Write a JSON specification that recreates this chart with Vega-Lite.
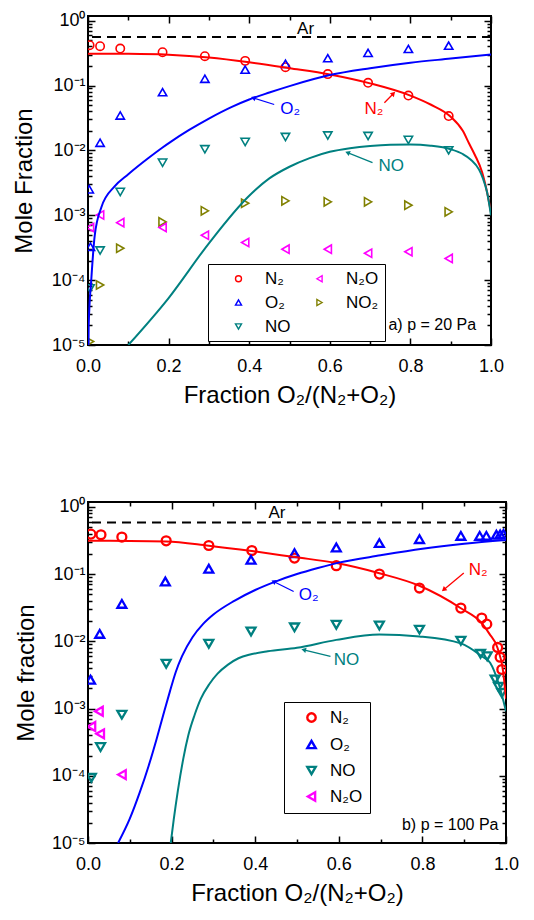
{
  "$schema": "https://vega.github.io/schema/vega-lite/v6.json",
  "background": "white",
  "padding": {"left": 11, "top": 10, "right": 4, "bottom": 4},
  "spacing": 88,
  "config": {
    "font": "Liberation Sans",
    "view": {"stroke": "black", "strokeWidth": 2},
    "axis": {"domain": false, "grid": false, "labelFont": "Liberation Sans", "labelFontSize": 18, "labelColor": "black", "tickColor": "black", "tickWidth": 1.5, "labelFlush": false, "labelOverlap": false, "titleFont": "Liberation Sans", "titleFontSize": 24, "titleFontWeight": "normal", "titleColor": "black"},
    "legend": {"labelFont": "Liberation Sans", "labelColor": "black"}
  },
  "datasets": {
    "topPts": [
      {"sp": "N₂", "x": 0.004, "y": 0.419}, {"sp": "N₂", "x": 0.03, "y": 0.404}, {"sp": "N₂", "x": 0.08, "y": 0.371}, {"sp": "N₂", "x": 0.185, "y": 0.327}, {"sp": "N₂", "x": 0.29, "y": 0.283}, {"sp": "N₂", "x": 0.39, "y": 0.24}, {"sp": "N₂", "x": 0.49, "y": 0.192}, {"sp": "N₂", "x": 0.595, "y": 0.15}, {"sp": "N₂", "x": 0.695, "y": 0.11}, {"sp": "N₂", "x": 0.795, "y": 0.07}, {"sp": "N₂", "x": 0.895, "y": 0.0338},
      {"sp": "O₂", "x": 0.003, "y": 0.00251}, {"sp": "O₂", "x": 0.006, "y": 0.000327}, {"sp": "O₂", "x": 0.03, "y": 0.0131}, {"sp": "O₂", "x": 0.08, "y": 0.0345}, {"sp": "O₂", "x": 0.185, "y": 0.079}, {"sp": "O₂", "x": 0.29, "y": 0.127}, {"sp": "O₂", "x": 0.39, "y": 0.176}, {"sp": "O₂", "x": 0.49, "y": 0.216}, {"sp": "O₂", "x": 0.595, "y": 0.264}, {"sp": "O₂", "x": 0.695, "y": 0.319}, {"sp": "O₂", "x": 0.795, "y": 0.367}, {"sp": "O₂", "x": 0.895, "y": 0.412},
      {"sp": "NO", "x": 0.005, "y": 0.0000745}, {"sp": "NO", "x": 0.03, "y": 0.000286}, {"sp": "NO", "x": 0.08, "y": 0.00229}, {"sp": "NO", "x": 0.185, "y": 0.00647}, {"sp": "NO", "x": 0.29, "y": 0.0104}, {"sp": "NO", "x": 0.39, "y": 0.0135}, {"sp": "NO", "x": 0.49, "y": 0.0161}, {"sp": "NO", "x": 0.595, "y": 0.017}, {"sp": "NO", "x": 0.695, "y": 0.0167}, {"sp": "NO", "x": 0.795, "y": 0.0145}, {"sp": "NO", "x": 0.895, "y": 0.01},
      {"sp": "NO₂", "x": 0.005, "y": 0.0000113}, {"sp": "NO₂", "x": 0.03, "y": 0.000084}, {"sp": "NO₂", "x": 0.08, "y": 0.00031}, {"sp": "NO₂", "x": 0.185, "y": 0.00079}, {"sp": "NO₂", "x": 0.29, "y": 0.00117}, {"sp": "NO₂", "x": 0.39, "y": 0.00153}, {"sp": "NO₂", "x": 0.49, "y": 0.00167}, {"sp": "NO₂", "x": 0.595, "y": 0.00161}, {"sp": "NO₂", "x": 0.695, "y": 0.00161}, {"sp": "NO₂", "x": 0.795, "y": 0.00143}, {"sp": "NO₂", "x": 0.895, "y": 0.00113},
      {"sp": "N₂O", "x": 0.005, "y": 0.000647}, {"sp": "N₂O", "x": 0.03, "y": 0.00101}, {"sp": "N₂O", "x": 0.08, "y": 0.00077}, {"sp": "N₂O", "x": 0.185, "y": 0.000647}, {"sp": "N₂O", "x": 0.29, "y": 0.000492}, {"sp": "N₂O", "x": 0.39, "y": 0.00038}, {"sp": "N₂O", "x": 0.49, "y": 0.0003}, {"sp": "N₂O", "x": 0.595, "y": 0.0003}, {"sp": "N₂O", "x": 0.695, "y": 0.00026}, {"sp": "N₂O", "x": 0.795, "y": 0.000274}, {"sp": "N₂O", "x": 0.895, "y": 0.000216}
    ],
    "topCurves": [
      {"c": "N2", "x": 0, "y": 0.31}, {"c": "N2", "x": 0.1, "y": 0.308}, {"c": "N2", "x": 0.2, "y": 0.298}, {"c": "N2", "x": 0.3, "y": 0.27}, {"c": "N2", "x": 0.4, "y": 0.228}, {"c": "N2", "x": 0.5, "y": 0.185}, {"c": "N2", "x": 0.6, "y": 0.148}, {"c": "N2", "x": 0.7, "y": 0.108}, {"c": "N2", "x": 0.8, "y": 0.07}, {"c": "N2", "x": 0.85, "y": 0.051}, {"c": "N2", "x": 0.9, "y": 0.033}, {"c": "N2", "x": 0.93, "y": 0.02}, {"c": "N2", "x": 0.945, "y": 0.013}, {"c": "N2", "x": 0.96, "y": 0.0085}, {"c": "N2", "x": 0.978, "y": 0.0046}, {"c": "N2", "x": 0.99, "y": 0.0023}, {"c": "N2", "x": 1.0, "y": 0.0011},
      {"c": "O2", "x": 0.0012, "y": 0.00001}, {"c": "O2", "x": 0.0017, "y": 0.00002}, {"c": "O2", "x": 0.0083, "y": 0.000105}, {"c": "O2", "x": 0.0166, "y": 0.00048}, {"c": "O2", "x": 0.033, "y": 0.00132}, {"c": "O2", "x": 0.066, "y": 0.00279}, {"c": "O2", "x": 0.1, "y": 0.0043}, {"c": "O2", "x": 0.15, "y": 0.00764}, {"c": "O2", "x": 0.185, "y": 0.0111}, {"c": "O2", "x": 0.207, "y": 0.0138}, {"c": "O2", "x": 0.25, "y": 0.0205}, {"c": "O2", "x": 0.3, "y": 0.031}, {"c": "O2", "x": 0.357, "y": 0.047}, {"c": "O2", "x": 0.4, "y": 0.061}, {"c": "O2", "x": 0.45, "y": 0.078}, {"c": "O2", "x": 0.5, "y": 0.098}, {"c": "O2", "x": 0.6, "y": 0.145}, {"c": "O2", "x": 0.7, "y": 0.185}, {"c": "O2", "x": 0.8, "y": 0.225}, {"c": "O2", "x": 0.9, "y": 0.26}, {"c": "O2", "x": 1.0, "y": 0.3},
      {"c": "NO", "x": 0.1, "y": 0.00001}, {"c": "NO", "x": 0.2, "y": 0.000053}, {"c": "NO", "x": 0.3, "y": 0.00037}, {"c": "NO", "x": 0.4, "y": 0.002}, {"c": "NO", "x": 0.45, "y": 0.0037}, {"c": "NO", "x": 0.5, "y": 0.0056}, {"c": "NO", "x": 0.55, "y": 0.0076}, {"c": "NO", "x": 0.6, "y": 0.0095}, {"c": "NO", "x": 0.65, "y": 0.0108}, {"c": "NO", "x": 0.7, "y": 0.0117}, {"c": "NO", "x": 0.75, "y": 0.0122}, {"c": "NO", "x": 0.8, "y": 0.0123}, {"c": "NO", "x": 0.85, "y": 0.0118}, {"c": "NO", "x": 0.9, "y": 0.0104}, {"c": "NO", "x": 0.93, "y": 0.0088}, {"c": "NO", "x": 0.95, "y": 0.0072}, {"c": "NO", "x": 0.97, "y": 0.0051}, {"c": "NO", "x": 0.98, "y": 0.0037}, {"c": "NO", "x": 0.99, "y": 0.0023}, {"c": "NO", "x": 1.0, "y": 0.001}
    ],
    "botPts": [
      {"sp": "N₂", "x": 0.007, "y": 0.393}, {"sp": "N₂", "x": 0.031, "y": 0.384}, {"sp": "N₂", "x": 0.081, "y": 0.355}, {"sp": "N₂", "x": 0.187, "y": 0.312}, {"sp": "N₂", "x": 0.289, "y": 0.266}, {"sp": "N₂", "x": 0.392, "y": 0.224}, {"sp": "N₂", "x": 0.494, "y": 0.173}, {"sp": "N₂", "x": 0.594, "y": 0.133}, {"sp": "N₂", "x": 0.697, "y": 0.1}, {"sp": "N₂", "x": 0.793, "y": 0.062}, {"sp": "N₂", "x": 0.892, "y": 0.0312}, {"sp": "N₂", "x": 0.942, "y": 0.0222}, {"sp": "N₂", "x": 0.954, "y": 0.018}, {"sp": "N₂", "x": 0.98, "y": 0.0081}, {"sp": "N₂", "x": 0.986, "y": 0.0058}, {"sp": "N₂", "x": 0.99, "y": 0.0038},
      {"sp": "O₂", "x": 0.006, "y": 0.00268}, {"sp": "O₂", "x": 0.028, "y": 0.0129}, {"sp": "O₂", "x": 0.081, "y": 0.036}, {"sp": "O₂", "x": 0.185, "y": 0.0776}, {"sp": "O₂", "x": 0.289, "y": 0.12}, {"sp": "O₂", "x": 0.39, "y": 0.163}, {"sp": "O₂", "x": 0.494, "y": 0.205}, {"sp": "O₂", "x": 0.594, "y": 0.249}, {"sp": "O₂", "x": 0.697, "y": 0.289}, {"sp": "O₂", "x": 0.793, "y": 0.331}, {"sp": "O₂", "x": 0.892, "y": 0.37}, {"sp": "O₂", "x": 0.937, "y": 0.37}, {"sp": "O₂", "x": 0.953, "y": 0.37}, {"sp": "O₂", "x": 0.977, "y": 0.385}, {"sp": "O₂", "x": 0.986, "y": 0.39}, {"sp": "O₂", "x": 0.994, "y": 0.395},
      {"sp": "NO", "x": 0.008, "y": 0.000093}, {"sp": "NO", "x": 0.03, "y": 0.000267}, {"sp": "NO", "x": 0.081, "y": 0.00081}, {"sp": "NO", "x": 0.187, "y": 0.00464}, {"sp": "NO", "x": 0.289, "y": 0.0092}, {"sp": "NO", "x": 0.39, "y": 0.014}, {"sp": "NO", "x": 0.494, "y": 0.0161}, {"sp": "NO", "x": 0.594, "y": 0.0176}, {"sp": "NO", "x": 0.697, "y": 0.0172}, {"sp": "NO", "x": 0.793, "y": 0.0149}, {"sp": "NO", "x": 0.892, "y": 0.0102}, {"sp": "NO", "x": 0.939, "y": 0.0065}, {"sp": "NO", "x": 0.955, "y": 0.006}, {"sp": "NO", "x": 0.974, "y": 0.0027}, {"sp": "NO", "x": 0.982, "y": 0.0021}, {"sp": "NO", "x": 0.99, "y": 0.0017},
      {"sp": "N₂O", "x": 0.026, "y": 0.00091}, {"sp": "N₂O", "x": 0.008, "y": 0.00054}, {"sp": "N₂O", "x": 0.029, "y": 0.00042}, {"sp": "N₂O", "x": 0.081, "y": 0.000104}
    ],
    "botCurves": [
      {"c": "N2", "x": 0, "y": 0.312}, {"c": "N2", "x": 0.1, "y": 0.311}, {"c": "N2", "x": 0.187, "y": 0.306}, {"c": "N2", "x": 0.289, "y": 0.264}, {"c": "N2", "x": 0.392, "y": 0.22}, {"c": "N2", "x": 0.494, "y": 0.179}, {"c": "N2", "x": 0.594, "y": 0.146}, {"c": "N2", "x": 0.697, "y": 0.103}, {"c": "N2", "x": 0.793, "y": 0.067}, {"c": "N2", "x": 0.892, "y": 0.031}, {"c": "N2", "x": 0.942, "y": 0.0186}, {"c": "N2", "x": 0.96, "y": 0.013}, {"c": "N2", "x": 0.98, "y": 0.0079}, {"c": "N2", "x": 0.993, "y": 0.0036}, {"c": "N2", "x": 1.0, "y": 0.0014},
      {"c": "O2", "x": 0.072, "y": 0.00001}, {"c": "O2", "x": 0.1, "y": 0.000023}, {"c": "O2", "x": 0.124, "y": 0.000057}, {"c": "O2", "x": 0.145, "y": 0.00014}, {"c": "O2", "x": 0.164, "y": 0.00035}, {"c": "O2", "x": 0.18, "y": 0.0008}, {"c": "O2", "x": 0.196, "y": 0.0018}, {"c": "O2", "x": 0.21, "y": 0.0035}, {"c": "O2", "x": 0.225, "y": 0.006}, {"c": "O2", "x": 0.25, "y": 0.0115}, {"c": "O2", "x": 0.275, "y": 0.018}, {"c": "O2", "x": 0.3, "y": 0.025}, {"c": "O2", "x": 0.35, "y": 0.04}, {"c": "O2", "x": 0.4, "y": 0.058}, {"c": "O2", "x": 0.45, "y": 0.078}, {"c": "O2", "x": 0.5, "y": 0.1}, {"c": "O2", "x": 0.55, "y": 0.123}, {"c": "O2", "x": 0.6, "y": 0.148}, {"c": "O2", "x": 0.7, "y": 0.19}, {"c": "O2", "x": 0.8, "y": 0.238}, {"c": "O2", "x": 0.9, "y": 0.282}, {"c": "O2", "x": 1.0, "y": 0.32},
      {"c": "NO", "x": 0.198, "y": 0.00001}, {"c": "NO", "x": 0.205, "y": 0.000022}, {"c": "NO", "x": 0.215, "y": 0.00006}, {"c": "NO", "x": 0.228, "y": 0.00018}, {"c": "NO", "x": 0.24, "y": 0.0004}, {"c": "NO", "x": 0.255, "y": 0.0008}, {"c": "NO", "x": 0.27, "y": 0.0014}, {"c": "NO", "x": 0.29, "y": 0.0023}, {"c": "NO", "x": 0.31, "y": 0.0033}, {"c": "NO", "x": 0.335, "y": 0.0045}, {"c": "NO", "x": 0.36, "y": 0.0056}, {"c": "NO", "x": 0.39, "y": 0.0064}, {"c": "NO", "x": 0.43, "y": 0.0071}, {"c": "NO", "x": 0.5, "y": 0.008}, {"c": "NO", "x": 0.594, "y": 0.0105}, {"c": "NO", "x": 0.697, "y": 0.0126}, {"c": "NO", "x": 0.793, "y": 0.0118}, {"c": "NO", "x": 0.892, "y": 0.0093}, {"c": "NO", "x": 0.942, "y": 0.006}, {"c": "NO", "x": 0.962, "y": 0.0048}, {"c": "NO", "x": 0.982, "y": 0.0024}, {"c": "NO", "x": 1.0, "y": 0.00091}
    ]
  },
  "resolve": {"scale": {"color": "independent", "shape": "independent"}, "legend": {"color": "independent", "shape": "independent"}},
  "vconcat": [
    {
      "width": 403, "height": 329,
      "resolve": {"axis": {"x": "independent", "y": "independent"}},
      "layer": [
        {
          "data": {"name": "topPts"},
          "mark": {"type": "point", "filled": false, "size": 70, "strokeWidth": 1.6, "opacity": 1, "clip": true},
          "encoding": {
            "x": {"field": "x", "type": "quantitative", "scale": {"domain": [0, 1], "nice": false, "zero": false}, "axis": {"orient": "bottom", "values": [0, 0.2, 0.4, 0.6, 0.8, 1], "format": ".1f", "tickSize": -7, "labelPadding": 19, "title": "Fraction O₂/(N₂+O₂)", "titlePadding": 8}},
            "y": {"field": "y", "type": "quantitative", "scale": {"type": "log", "domain": [0.00001, 1.18], "nice": false}, "axis": {"orient": "left", "values": [0.00001, 0.0001, 0.001, 0.01, 0.1, 1], "labelExpr": "datum.value >= 1 ? '10⁰' : datum.value >= 0.1 ? '10⁻¹' : datum.value >= 0.01 ? '10⁻²' : datum.value >= 0.001 ? '10⁻³' : datum.value >= 0.0001 ? '10⁻⁴' : '10⁻⁵'", "tickSize": -7, "labelPadding": 10, "title": "Mole Fraction", "titlePadding": 15}},
            "color": {"field": "sp", "type": "nominal", "scale": {"domain": ["N₂", "O₂", "NO", "N₂O", "NO₂"], "range": ["#ff0000", "#0000ff", "#008080", "#ff00ff", "#808000"]}, "legend": {"title": null, "orient": "none", "legendX": 120, "legendY": 248, "columns": 2, "gridAlign": "each", "strokeColor": "black", "fillColor": "white", "padding": 6, "symbolSize": 36, "symbolStrokeWidth": 1.4, "labelFontSize": 17, "rowPadding": 6, "columnPadding": 4, "symbolOffset": 16, "labelOffset": 18}},
            "shape": {"field": "sp", "type": "nominal", "scale": {"domain": ["N₂", "O₂", "NO", "N₂O", "NO₂"], "range": ["circle", "triangle-up", "triangle-down", "triangle-left", "triangle-right"]}, "legend": {"title": null, "orient": "none", "legendX": 120, "legendY": 248, "columns": 2, "gridAlign": "each", "strokeColor": "black", "fillColor": "white", "padding": 6, "symbolSize": 36, "symbolStrokeWidth": 1.4, "labelFontSize": 17, "rowPadding": 6, "columnPadding": 4, "symbolOffset": 16, "labelOffset": 18}}
          }
        },
        {
          "data": {"name": "topCurves"},
          "transform": [{"filter": "datum.c === 'N2'"}],
          "mark": {"type": "line", "color": "#ff0000", "strokeWidth": 2, "interpolate": "monotone", "clip": true},
          "encoding": {
            "x": {"field": "x", "type": "quantitative", "scale": {"domain": [0, 1], "nice": false, "zero": false}, "axis": {"orient": "bottom", "values": [0.1, 0.3, 0.5, 0.7, 0.9], "labels": false, "tickSize": -4, "title": null}},
            "y": {"field": "y", "type": "quantitative", "scale": {"type": "log", "domain": [0.00001, 1.18], "nice": false}, "axis": {"orient": "left", "values": [0.00002, 0.00003, 0.00004, 0.00005, 0.00006, 0.00007, 0.00008, 0.00009, 0.0002, 0.0003, 0.0004, 0.0005, 0.0006, 0.0007, 0.0008, 0.0009, 0.002, 0.003, 0.004, 0.005, 0.006, 0.007, 0.008, 0.009, 0.02, 0.03, 0.04, 0.05, 0.06, 0.07, 0.08, 0.09, 0.2, 0.3, 0.4, 0.5, 0.6, 0.7, 0.8, 0.9], "labels": false, "tickSize": -4, "title": null}}
          }
        },
        {
          "data": {"name": "topCurves"},
          "transform": [{"filter": "datum.c === 'O2'"}],
          "mark": {"type": "line", "color": "#0000ff", "strokeWidth": 2, "interpolate": "monotone", "clip": true},
          "encoding": {
            "x": {"field": "x", "type": "quantitative", "scale": {"domain": [0, 1], "nice": false, "zero": false}, "axis": {"orient": "top", "values": [0, 0.2, 0.4, 0.6, 0.8, 1], "labels": false, "tickSize": -7, "title": null}},
            "y": {"field": "y", "type": "quantitative", "scale": {"type": "log", "domain": [0.00001, 1.18], "nice": false}, "axis": {"orient": "right", "values": [0.00001, 0.0001, 0.001, 0.01, 0.1, 1], "labels": false, "tickSize": -7, "title": null}}
          }
        },
        {
          "data": {"name": "topCurves"},
          "transform": [{"filter": "datum.c === 'NO'"}],
          "mark": {"type": "line", "color": "#008080", "strokeWidth": 2, "interpolate": "monotone", "clip": true},
          "encoding": {
            "x": {"field": "x", "type": "quantitative", "scale": {"domain": [0, 1], "nice": false, "zero": false}, "axis": {"orient": "top", "values": [0.1, 0.3, 0.5, 0.7, 0.9], "labels": false, "tickSize": -4, "title": null}},
            "y": {"field": "y", "type": "quantitative", "scale": {"type": "log", "domain": [0.00001, 1.18], "nice": false}, "axis": {"orient": "right", "values": [0.00002, 0.00003, 0.00004, 0.00005, 0.00006, 0.00007, 0.00008, 0.00009, 0.0002, 0.0003, 0.0004, 0.0005, 0.0006, 0.0007, 0.0008, 0.0009, 0.002, 0.003, 0.004, 0.005, 0.006, 0.007, 0.008, 0.009, 0.02, 0.03, 0.04, 0.05, 0.06, 0.07, 0.08, 0.09, 0.2, 0.3, 0.4, 0.5, 0.6, 0.7, 0.8, 0.9], "labels": false, "tickSize": -4, "title": null}}
          }
        },
        {
          "data": {"values": [{"t": "Ar", "x": 0.54, "y": 0.745, "v": 0.56}]},
          "layer": [
            {"mark": {"type": "rule", "color": "black", "strokeWidth": 2, "strokeDash": [9, 6]}, "encoding": {"y": {"field": "v", "type": "quantitative", "scale": {"type": "log", "domain": [0.00001, 1.18], "nice": false}, "axis": null}}},
            {"mark": {"type": "text", "color": "black", "fontSize": 17, "align": "center", "baseline": "middle"}, "encoding": {"x": {"field": "x", "type": "quantitative", "scale": {"domain": [0, 1], "nice": false, "zero": false}, "axis": null}, "y": {"field": "y", "type": "quantitative", "scale": {"type": "log", "domain": [0.00001, 1.18], "nice": false}, "axis": null}, "text": {"field": "t"}}}
          ]
        },
        {
          "data": {"values": [{"t": "a) p = 20 Pa", "x": 0.963, "y": 0.00002}]},
          "mark": {"type": "text", "color": "black", "fontSize": 16, "align": "right", "baseline": "middle"},
          "encoding": {"x": {"field": "x", "type": "quantitative", "scale": {"domain": [0, 1], "nice": false, "zero": false}, "axis": null}, "y": {"field": "y", "type": "quantitative", "scale": {"type": "log", "domain": [0.00001, 1.18], "nice": false}, "axis": null}, "text": {"field": "t"}}
        },
        {
          "data": {"values": [{"t": "O₂", "tx": 0.477, "ty": 0.0428, "x1": 0.462, "y1": 0.051, "x2": 0.41, "y2": 0.0646}]},
          "layer": [
            {"mark": {"type": "text", "color": "#0000ff", "fontSize": 17, "align": "left", "baseline": "middle"}, "encoding": {"x": {"field": "tx", "type": "quantitative", "scale": {"domain": [0, 1], "nice": false, "zero": false}, "axis": null}, "y": {"field": "ty", "type": "quantitative", "scale": {"type": "log", "domain": [0.00001, 1.18], "nice": false}, "axis": null}, "text": {"field": "t"}}},
            {"mark": {"type": "rule", "color": "#0000ff", "strokeWidth": 1.3}, "encoding": {"x": {"field": "x1", "type": "quantitative", "scale": {"domain": [0, 1], "nice": false, "zero": false}, "axis": null}, "y": {"field": "y1", "type": "quantitative", "scale": {"type": "log", "domain": [0.00001, 1.18], "nice": false}, "axis": null}, "x2": {"field": "x2"}, "y2": {"field": "y2"}}},
            {"mark": {"type": "point", "shape": "triangle-up", "filled": true, "color": "#0000ff", "size": 30, "angle": 288, "opacity": 1}, "encoding": {"x": {"field": "x2", "type": "quantitative", "scale": {"domain": [0, 1], "nice": false, "zero": false}, "axis": null}, "y": {"field": "y2", "type": "quantitative", "scale": {"type": "log", "domain": [0.00001, 1.18], "nice": false}, "axis": null}}}
          ]
        },
        {
          "data": {"values": [{"t": "N₂", "tx": 0.686, "ty": 0.0428, "x1": 0.7355, "y1": 0.0542, "x2": 0.758, "y2": 0.0753}]},
          "layer": [
            {"mark": {"type": "text", "color": "#ff0000", "fontSize": 17, "align": "left", "baseline": "middle"}, "encoding": {"x": {"field": "tx", "type": "quantitative", "scale": {"domain": [0, 1], "nice": false, "zero": false}, "axis": null}, "y": {"field": "ty", "type": "quantitative", "scale": {"type": "log", "domain": [0.00001, 1.18], "nice": false}, "axis": null}, "text": {"field": "t"}}},
            {"mark": {"type": "rule", "color": "#ff0000", "strokeWidth": 1.3}, "encoding": {"x": {"field": "x1", "type": "quantitative", "scale": {"domain": [0, 1], "nice": false, "zero": false}, "axis": null}, "y": {"field": "y1", "type": "quantitative", "scale": {"type": "log", "domain": [0.00001, 1.18], "nice": false}, "axis": null}, "x2": {"field": "x2"}, "y2": {"field": "y2"}}},
            {"mark": {"type": "point", "shape": "triangle-up", "filled": true, "color": "#ff0000", "size": 30, "angle": 44, "opacity": 1}, "encoding": {"x": {"field": "x2", "type": "quantitative", "scale": {"domain": [0, 1], "nice": false, "zero": false}, "axis": null}, "y": {"field": "y2", "type": "quantitative", "scale": {"type": "log", "domain": [0.00001, 1.18], "nice": false}, "axis": null}}}
          ]
        },
        {
          "data": {"values": [{"t": "NO", "tx": 0.721, "ty": 0.00575, "x1": 0.706, "y1": 0.00647, "x2": 0.644, "y2": 0.00922}]},
          "layer": [
            {"mark": {"type": "text", "color": "#008080", "fontSize": 17, "align": "left", "baseline": "middle"}, "encoding": {"x": {"field": "tx", "type": "quantitative", "scale": {"domain": [0, 1], "nice": false, "zero": false}, "axis": null}, "y": {"field": "ty", "type": "quantitative", "scale": {"type": "log", "domain": [0.00001, 1.18], "nice": false}, "axis": null}, "text": {"field": "t"}}},
            {"mark": {"type": "rule", "color": "#008080", "strokeWidth": 1.3}, "encoding": {"x": {"field": "x1", "type": "quantitative", "scale": {"domain": [0, 1], "nice": false, "zero": false}, "axis": null}, "y": {"field": "y1", "type": "quantitative", "scale": {"type": "log", "domain": [0.00001, 1.18], "nice": false}, "axis": null}, "x2": {"field": "x2"}, "y2": {"field": "y2"}}},
            {"mark": {"type": "point", "shape": "triangle-up", "filled": true, "color": "#008080", "size": 30, "angle": 292, "opacity": 1}, "encoding": {"x": {"field": "x2", "type": "quantitative", "scale": {"domain": [0, 1], "nice": false, "zero": false}, "axis": null}, "y": {"field": "y2", "type": "quantitative", "scale": {"type": "log", "domain": [0.00001, 1.18], "nice": false}, "axis": null}}}
          ]
        }
      ]
    },
    {
      "width": 418, "height": 341,
      "resolve": {"axis": {"x": "independent", "y": "independent"}},
      "layer": [
        {
          "data": {"name": "botPts"},
          "mark": {"type": "point", "filled": false, "size": 80, "strokeWidth": 2.3, "opacity": 1, "clip": true},
          "encoding": {
            "x": {"field": "x", "type": "quantitative", "scale": {"domain": [0, 1], "nice": false, "zero": false}, "axis": {"orient": "bottom", "values": [0, 0.2, 0.4, 0.6, 0.8, 1], "format": ".1f", "tickSize": -7, "labelPadding": 19, "title": "Fraction O₂/(N₂+O₂)", "titlePadding": 8}},
            "y": {"field": "y", "type": "quantitative", "scale": {"type": "log", "domain": [0.00001, 1.18], "nice": false}, "axis": {"orient": "left", "values": [0.00001, 0.0001, 0.001, 0.01, 0.1, 1], "labelExpr": "datum.value >= 1 ? '10⁰' : datum.value >= 0.1 ? '10⁻¹' : datum.value >= 0.01 ? '10⁻²' : datum.value >= 0.001 ? '10⁻³' : datum.value >= 0.0001 ? '10⁻⁴' : '10⁻⁵'", "tickSize": -7, "labelPadding": 10, "title": "Mole fraction", "titlePadding": 13}},
            "color": {"field": "sp", "type": "nominal", "scale": {"domain": ["N₂", "O₂", "NO", "N₂O"], "range": ["#ff0000", "#0000ff", "#008080", "#ff00ff"]}, "legend": {"title": null, "orient": "none", "legendX": 196, "legendY": 200, "strokeColor": "black", "fillColor": "white", "padding": 7, "symbolSize": 70, "symbolStrokeWidth": 2.4, "labelFontSize": 17, "rowPadding": 8, "symbolOffset": 12, "labelOffset": 10}},
            "shape": {"field": "sp", "type": "nominal", "scale": {"domain": ["N₂", "O₂", "NO", "N₂O"], "range": ["circle", "triangle-up", "triangle-down", "triangle-left"]}, "legend": {"title": null, "orient": "none", "legendX": 196, "legendY": 200, "strokeColor": "black", "fillColor": "white", "padding": 7, "symbolSize": 70, "symbolStrokeWidth": 2.4, "labelFontSize": 17, "rowPadding": 8, "symbolOffset": 12, "labelOffset": 10}}
          }
        },
        {
          "data": {"name": "botCurves"},
          "transform": [{"filter": "datum.c === 'N2'"}],
          "mark": {"type": "line", "color": "#ff0000", "strokeWidth": 2, "interpolate": "monotone", "clip": true},
          "encoding": {
            "x": {"field": "x", "type": "quantitative", "scale": {"domain": [0, 1], "nice": false, "zero": false}, "axis": {"orient": "bottom", "values": [0.1, 0.3, 0.5, 0.7, 0.9], "labels": false, "tickSize": -4, "title": null}},
            "y": {"field": "y", "type": "quantitative", "scale": {"type": "log", "domain": [0.00001, 1.18], "nice": false}, "axis": {"orient": "left", "values": [0.00002, 0.00003, 0.00004, 0.00005, 0.00006, 0.00007, 0.00008, 0.00009, 0.0002, 0.0003, 0.0004, 0.0005, 0.0006, 0.0007, 0.0008, 0.0009, 0.002, 0.003, 0.004, 0.005, 0.006, 0.007, 0.008, 0.009, 0.02, 0.03, 0.04, 0.05, 0.06, 0.07, 0.08, 0.09, 0.2, 0.3, 0.4, 0.5, 0.6, 0.7, 0.8, 0.9], "labels": false, "tickSize": -4, "title": null}}
          }
        },
        {
          "data": {"name": "botCurves"},
          "transform": [{"filter": "datum.c === 'O2'"}],
          "mark": {"type": "line", "color": "#0000ff", "strokeWidth": 2, "interpolate": "monotone", "clip": true},
          "encoding": {
            "x": {"field": "x", "type": "quantitative", "scale": {"domain": [0, 1], "nice": false, "zero": false}, "axis": {"orient": "top", "values": [0, 0.2, 0.4, 0.6, 0.8, 1], "labels": false, "tickSize": -7, "title": null}},
            "y": {"field": "y", "type": "quantitative", "scale": {"type": "log", "domain": [0.00001, 1.18], "nice": false}, "axis": {"orient": "right", "values": [0.00001, 0.0001, 0.001, 0.01, 0.1, 1], "labels": false, "tickSize": -7, "title": null}}
          }
        },
        {
          "data": {"name": "botCurves"},
          "transform": [{"filter": "datum.c === 'NO'"}],
          "mark": {"type": "line", "color": "#008080", "strokeWidth": 2, "interpolate": "monotone", "clip": true},
          "encoding": {
            "x": {"field": "x", "type": "quantitative", "scale": {"domain": [0, 1], "nice": false, "zero": false}, "axis": {"orient": "top", "values": [0.1, 0.3, 0.5, 0.7, 0.9], "labels": false, "tickSize": -4, "title": null}},
            "y": {"field": "y", "type": "quantitative", "scale": {"type": "log", "domain": [0.00001, 1.18], "nice": false}, "axis": {"orient": "right", "values": [0.00002, 0.00003, 0.00004, 0.00005, 0.00006, 0.00007, 0.00008, 0.00009, 0.0002, 0.0003, 0.0004, 0.0005, 0.0006, 0.0007, 0.0008, 0.0009, 0.002, 0.003, 0.004, 0.005, 0.006, 0.007, 0.008, 0.009, 0.02, 0.03, 0.04, 0.05, 0.06, 0.07, 0.08, 0.09, 0.2, 0.3, 0.4, 0.5, 0.6, 0.7, 0.8, 0.9], "labels": false, "tickSize": -4, "title": null}}
          }
        },
        {
          "data": {"values": [{"t": "Ar", "x": 0.452, "y": 0.807, "v": 0.585}]},
          "layer": [
            {"mark": {"type": "rule", "color": "black", "strokeWidth": 2, "strokeDash": [9, 6]}, "encoding": {"y": {"field": "v", "type": "quantitative", "scale": {"type": "log", "domain": [0.00001, 1.18], "nice": false}, "axis": null}}},
            {"mark": {"type": "text", "color": "black", "fontSize": 17, "align": "center", "baseline": "middle"}, "encoding": {"x": {"field": "x", "type": "quantitative", "scale": {"domain": [0, 1], "nice": false, "zero": false}, "axis": null}, "y": {"field": "y", "type": "quantitative", "scale": {"type": "log", "domain": [0.00001, 1.18], "nice": false}, "axis": null}, "text": {"field": "t"}}}
          ]
        },
        {
          "data": {"values": [{"t": "b) p = 100 Pa", "x": 0.982, "y": 0.0000186}]},
          "mark": {"type": "text", "color": "black", "fontSize": 16, "align": "right", "baseline": "middle"},
          "encoding": {"x": {"field": "x", "type": "quantitative", "scale": {"domain": [0, 1], "nice": false, "zero": false}, "axis": null}, "y": {"field": "y", "type": "quantitative", "scale": {"type": "log", "domain": [0.00001, 1.18], "nice": false}, "axis": null}, "text": {"field": "t"}}
        },
        {
          "data": {"values": [{"t": "O₂", "tx": 0.504, "ty": 0.0492, "x1": 0.492, "y1": 0.0551, "x2": 0.444, "y2": 0.0776}]},
          "layer": [
            {"mark": {"type": "text", "color": "#0000ff", "fontSize": 17, "align": "left", "baseline": "middle"}, "encoding": {"x": {"field": "tx", "type": "quantitative", "scale": {"domain": [0, 1], "nice": false, "zero": false}, "axis": null}, "y": {"field": "ty", "type": "quantitative", "scale": {"type": "log", "domain": [0.00001, 1.18], "nice": false}, "axis": null}, "text": {"field": "t"}}},
            {"mark": {"type": "rule", "color": "#0000ff", "strokeWidth": 1.3}, "encoding": {"x": {"field": "x1", "type": "quantitative", "scale": {"domain": [0, 1], "nice": false, "zero": false}, "axis": null}, "y": {"field": "y1", "type": "quantitative", "scale": {"type": "log", "domain": [0.00001, 1.18], "nice": false}, "axis": null}, "x2": {"field": "x2"}, "y2": {"field": "y2"}}},
            {"mark": {"type": "point", "shape": "triangle-up", "filled": true, "color": "#0000ff", "size": 30, "angle": 297, "opacity": 1}, "encoding": {"x": {"field": "x2", "type": "quantitative", "scale": {"domain": [0, 1], "nice": false, "zero": false}, "axis": null}, "y": {"field": "y2", "type": "quantitative", "scale": {"type": "log", "domain": [0.00001, 1.18], "nice": false}, "axis": null}}}
          ]
        },
        {
          "data": {"values": [{"t": "N₂", "tx": 0.911, "ty": 0.116, "x1": 0.899, "y1": 0.1035, "x2": 0.851, "y2": 0.0585}]},
          "layer": [
            {"mark": {"type": "text", "color": "#ff0000", "fontSize": 17, "align": "left", "baseline": "middle"}, "encoding": {"x": {"field": "tx", "type": "quantitative", "scale": {"domain": [0, 1], "nice": false, "zero": false}, "axis": null}, "y": {"field": "ty", "type": "quantitative", "scale": {"type": "log", "domain": [0.00001, 1.18], "nice": false}, "axis": null}, "text": {"field": "t"}}},
            {"mark": {"type": "rule", "color": "#ff0000", "strokeWidth": 1.3}, "encoding": {"x": {"field": "x1", "type": "quantitative", "scale": {"domain": [0, 1], "nice": false, "zero": false}, "axis": null}, "y": {"field": "y1", "type": "quantitative", "scale": {"type": "log", "domain": [0.00001, 1.18], "nice": false}, "axis": null}, "x2": {"field": "x2"}, "y2": {"field": "y2"}}},
            {"mark": {"type": "point", "shape": "triangle-up", "filled": true, "color": "#ff0000", "size": 30, "angle": 230, "opacity": 1}, "encoding": {"x": {"field": "x2", "type": "quantitative", "scale": {"domain": [0, 1], "nice": false, "zero": false}, "axis": null}, "y": {"field": "y2", "type": "quantitative", "scale": {"type": "log", "domain": [0.00001, 1.18], "nice": false}, "axis": null}}}
          ]
        },
        {
          "data": {"values": [{"t": "NO", "tx": 0.588, "ty": 0.00532, "x1": 0.58, "y1": 0.00596, "x2": 0.516, "y2": 0.00748}]},
          "layer": [
            {"mark": {"type": "text", "color": "#008080", "fontSize": 17, "align": "left", "baseline": "middle"}, "encoding": {"x": {"field": "tx", "type": "quantitative", "scale": {"domain": [0, 1], "nice": false, "zero": false}, "axis": null}, "y": {"field": "ty", "type": "quantitative", "scale": {"type": "log", "domain": [0.00001, 1.18], "nice": false}, "axis": null}, "text": {"field": "t"}}},
            {"mark": {"type": "rule", "color": "#008080", "strokeWidth": 1.3}, "encoding": {"x": {"field": "x1", "type": "quantitative", "scale": {"domain": [0, 1], "nice": false, "zero": false}, "axis": null}, "y": {"field": "y1", "type": "quantitative", "scale": {"type": "log", "domain": [0.00001, 1.18], "nice": false}, "axis": null}, "x2": {"field": "x2"}, "y2": {"field": "y2"}}},
            {"mark": {"type": "point", "shape": "triangle-up", "filled": true, "color": "#008080", "size": 30, "angle": 284, "opacity": 1}, "encoding": {"x": {"field": "x2", "type": "quantitative", "scale": {"domain": [0, 1], "nice": false, "zero": false}, "axis": null}, "y": {"field": "y2", "type": "quantitative", "scale": {"type": "log", "domain": [0.00001, 1.18], "nice": false}, "axis": null}}}
          ]
        }
      ]
    }
  ]
}
